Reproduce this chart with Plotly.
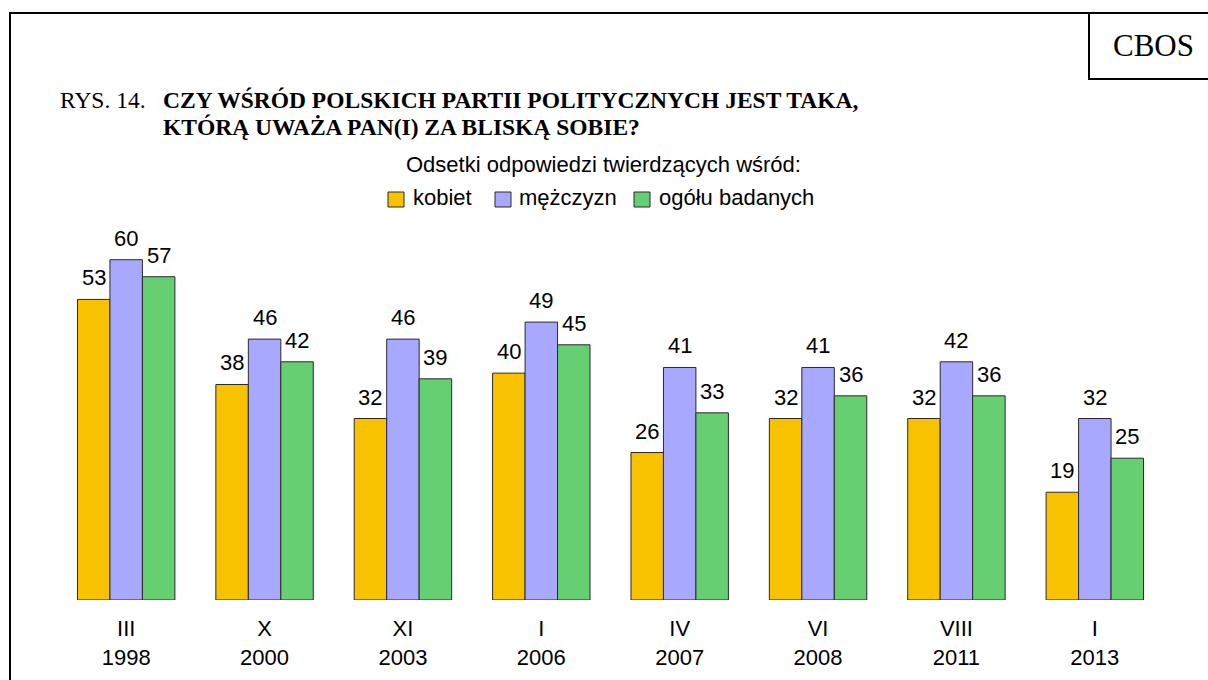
import plotly.graph_objects as go

# ---- data ----
months = ["III", "X", "XI", "I", "IV", "VI", "VIII", "I"]
years = ["1998", "2000", "2003", "2006", "2007", "2008", "2011", "2013"]
kobiet = [53, 38, 32, 40, 26, 32, 32, 19]
mezczyzn = [60, 46, 46, 49, 41, 41, 42, 32]
ogolu = [57, 42, 39, 45, 33, 36, 36, 25]
series_names = ["kobiet", "mężczyzn", "ogółu badanych"]
series_colors = ["#F8C200", "#A8A8FF", "#66CF72"]

categories = [f"{m}<br>{y}" for m, y in zip(months, years)]
series_values = [kobiet, mezczyzn, ogolu]

# ---- geometry ----
W, H = 1208, 680
L, R, T, B = 57, 44, 203, 80
PW, PH = W - L - R, H - T - B
BARGAP = 0.296


def px(x):
    return (x - L) / PW


def py(y):
    return (H - B - y) / PH


SANS = "Liberation Sans, Arial, sans-serif"
SERIF = "Liberation Serif, Times New Roman, serif"

fig = go.Figure()
for name, vals, col in zip(series_names, series_values, series_colors):
    fig.add_trace(go.Bar(
        x=categories, y=vals, name=name,
        marker=dict(color=col, line=dict(color="#2a2a2a", width=1)),
        showlegend=False,
    ))

bw = PW / len(categories) * (1 - BARGAP) / 3
annotations = []
for i, vals in enumerate(series_values):
    for c, v in zip(categories, vals):
        annotations.append(dict(
            x=c, y=v, xref="x", yref="y", text=str(v), showarrow=False,
            xshift=(i - 1) * bw, yshift=7, yanchor="bottom", xanchor="center",
            font=dict(family=SANS, size=22, color="black"),
        ))

# titles
annotations += [
    dict(x=px(58), y=py(100), xref="paper", yref="paper", text="RYS. 14.",
         showarrow=False, xanchor="left", yanchor="middle",
         font=dict(family=SERIF, size=23.5, color="black")),
    dict(x=px(161), y=py(100), xref="paper", yref="paper",
         text="<b>CZY WŚRÓD POLSKICH PARTII POLITYCZNYCH JEST TAKA,</b>",
         showarrow=False, xanchor="left", yanchor="middle",
         font=dict(family=SERIF, size=23.5, color="black")),
    dict(x=px(161), y=py(127), xref="paper", yref="paper",
         text="<b>KTÓRĄ UWAŻA PAN(I) ZA BLISKĄ SOBIE?</b>",
         showarrow=False, xanchor="left", yanchor="middle",
         font=dict(family=SERIF, size=23.5, color="black")),
    dict(x=px(1153), y=py(45), xref="paper", yref="paper", text="CBOS",
         showarrow=False, xanchor="center", yanchor="middle",
         font=dict(family=SERIF, size=31, color="black")),
    dict(x=px(603), y=py(164), xref="paper", yref="paper",
         text="Odsetki odpowiedzi twierdzących wśród:",
         showarrow=False, xanchor="center", yanchor="middle",
         font=dict(family=SANS, size=22, color="black")),
]

# manual legend
leg_sw_x = [388, 495, 634]
leg_tx_x = [411, 517, 657]
shapes = []
for name, col, sx, tx in zip(series_names, series_colors, leg_sw_x, leg_tx_x):
    shapes.append(dict(type="rect", xref="paper", yref="paper",
                       x0=px(sx), x1=px(sx + 16), y0=py(207), y1=py(192),
                       fillcolor=col, line=dict(color="#2a2a2a", width=1)))
    annotations.append(dict(x=px(tx), y=py(197), xref="paper", yref="paper",
                            text=name, showarrow=False, xanchor="left",
                            yanchor="middle",
                            font=dict(family=SANS, size=22, color="black")))

# frame and CBOS box
shapes.append(dict(type="rect", xref="paper", yref="paper",
                   x0=px(10), x1=px(1240), y0=py(720), y1=py(13),
                   line=dict(color="black", width=2), fillcolor="rgba(0,0,0,0)"))
shapes.append(dict(type="rect", xref="paper", yref="paper",
                   x0=px(1089), x1=px(1240), y0=py(79), y1=py(13),
                   line=dict(color="black", width=2), fillcolor="rgba(0,0,0,0)"))

fig.update_layout(
    width=W, height=H,
    margin=dict(l=L, r=R, t=T, b=B, autoexpand=False),
    barmode="group", bargap=BARGAP, bargroupgap=0,
    plot_bgcolor="white", paper_bgcolor="white",
    font=dict(family=SANS, size=22, color="black"),
    annotations=annotations, shapes=shapes,
    showlegend=False,
)
fig.update_xaxes(showgrid=False, showline=False, zeroline=False, ticks="",
                 ticklabelstandoff=13,
                 tickfont=dict(family=SANS, size=22, color="black"))
fig.update_yaxes(range=[0, 70], visible=False, showgrid=False, zeroline=False)

fig.write_html("out.html", config={"displayModeBar": False},
               post_script="document.body.style.margin='0';")
